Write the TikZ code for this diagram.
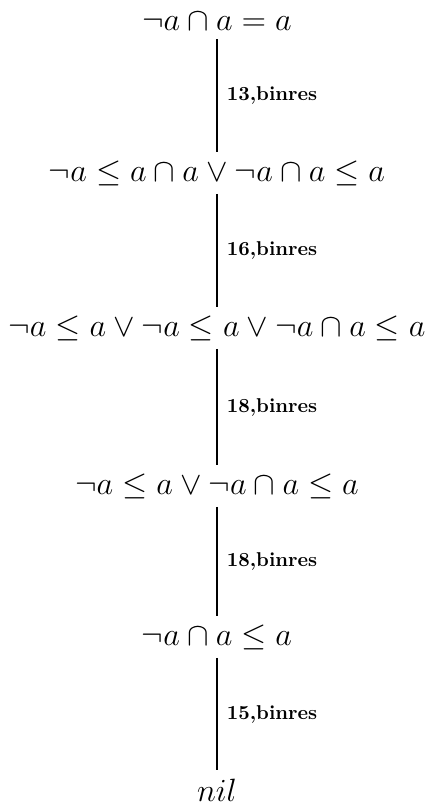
\documentclass[tikz,border=0pt]{standalone}
\usepackage{tikz}
\usetikzlibrary{positioning}
\newcommand{\fml}[1]{\scalebox{1.12}{$#1$}}

\begin{document}
\begin{tikzpicture}[
  x=0.5pt, y=-0.5pt,
  formel/.style={font=\fontsize{14.4}{17}\selectfont, inner sep=4pt},
  paso/.style={line width=1.2pt},
  etiq/.style={font=\fontsize{10}{12}\selectfont\bfseries, midway, right=1pt}
]
  \useasboundingbox (0,0) rectangle (428,810);

  % --- formulas
  \node[formel] (f1) at (217,22)  {\fml{\neg a \cap a = a}};
  \node[formel] (f2) at (217,173) {\fml{\neg a \leq a \cap a \vee \neg a \cap a \leq a}};
  \node[formel] (f3) at (217,328) {\fml{\neg a \leq a \vee \neg a \leq a \vee \neg a \cap a \leq a}};
  \node[formel] (f4) at (217,486) {\fml{\neg a \leq a \vee \neg a \cap a \leq a}};
  \node[formel] (f5) at (217,637) {\fml{\neg a \cap a \leq a}};
  \node[formel] (nil) at (217,790) {\fml{nil}};

  % --- derivation steps
  \draw[paso] (f1) -- (f2) node[etiq] {13,binres};
  \draw[paso] (f2) -- (f3) node[etiq] {16,binres};
  \draw[paso] (f3) -- (f4) node[etiq] {18,binres};
  \draw[paso] (f4) -- (f5) node[etiq] {18,binres};
  \draw[paso] (f5) -- (nil) node[etiq] {15,binres};
\end{tikzpicture}
\end{document}
